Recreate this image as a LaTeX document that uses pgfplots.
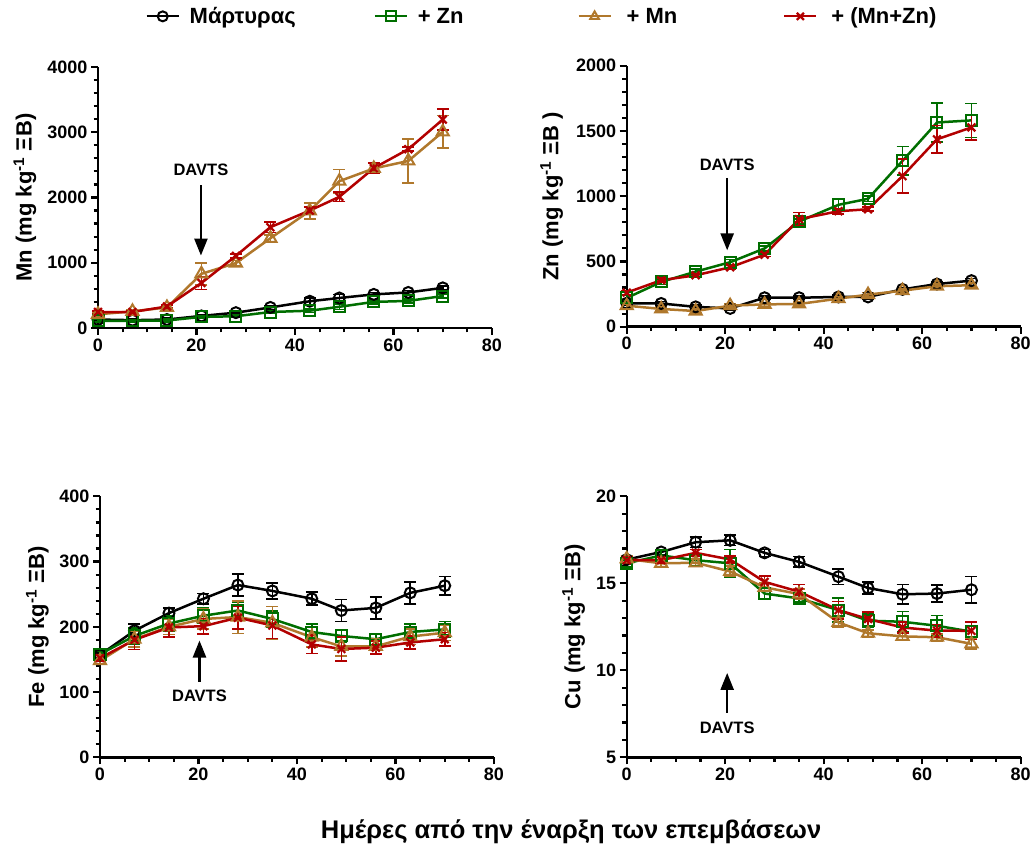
\documentclass[border=0pt]{standalone}
\usepackage{fontspec}
\setmainfont{Liberation Sans}
\usepackage{pgfplots}
\pgfplotsset{compat=1.18}
\usetikzlibrary{arrows.meta}
\definecolor{cgreen}{RGB}{0,110,0}
\definecolor{cbrown}{RGB}{176,120,44}
\definecolor{cred}{RGB}{178,0,0}
\tikzset{
 davts/.style={font=\fontsize{16.5}{17}\selectfont\bfseries},
 arr/.style={line width=2.4pt, -{Triangle[width=13pt,length=17pt]}},
}
\pgfplotsset{
 panel/.style={
  scale only axis, width=394pt, height=261pt,
  axis x line*=bottom, axis y line*=left,
  axis line style={line width=2.4pt,-},
  xmin=0, xmax=80, xtick={0,20,...,80}, minor x tick num=3,
  minor y tick num=4,
  tick align=outside, tick pos=left,
  major tick length=7pt, minor tick length=4.5pt,
  every tick/.style={black, line width=2.2pt},
  ticklabel style={font=\fontsize{18}{19}\selectfont\bfseries},
  /pgf/number format/assume math mode=true,
  /pgf/number format/set thousands separator={},
  every axis y label/.style={at={(axis description cs:0,0.5)}, rotate=90, anchor=center,
     font=\fontsize{22}{24}\selectfont\bfseries},
  clip=false,
  legend image code/.code={\draw[mark repeat=2,mark phase=2,##1,mark size=5pt,line width=2pt] plot coordinates {(0pt,0pt) (16pt,0pt) (32pt,0pt)};},
 },
 errb/.style={error bars/.cd, y dir=both, y explicit,
   error bar style={line width=1.6pt},
   error mark options={rotate=90, line width=1.6pt, mark size=6pt}},
 sctrl/.style={black, line width=2.5pt, mark=o, mark size=5.5pt, mark options={solid, line width=2pt}, errb},
 szn/.style={cgreen, line width=2.5pt, mark=square, mark size=5.5pt, mark options={solid, line width=2pt}, errb},
 smn/.style={cbrown, line width=2.5pt, mark=triangle, mark size=7pt, mark options={solid, line width=2pt}, errb},
 smz/.style={cred, line width=2.5pt, mark=x, mark size=5.5pt, mark options={solid, line width=2.2pt}, errb},
}
\begin{document}
\begin{tikzpicture}
\path[use as bounding box] (0pt,0pt) rectangle (1032pt,852pt);

% ---------------- Mn ----------------
\begin{axis}[panel, at={(98pt,524pt)}, anchor=south west,
  ymin=0, ymax=4000, ytick={0,1000,...,4000},
  ylabel={Mn (mg kg\textsuperscript{-1} ΞΒ)},
  ylabel style={yshift=73pt},
  legend columns=4,
  legend style={at={(0.113,1.194)}, anchor=west, draw=none, fill=none,
    font=\fontsize{22}{24}\selectfont\bfseries,
    /tikz/every even column/.append style={column sep=0pt}},
  ]
\addplot[sctrl] table[x=x,y=y,y error=e]{
x y e
0 130 20
7 120 20
14 130 20
21 185 20
28 235 25
35 315 30
43 410 50
49 460 55
56 515 30
63 545 30
70 615 30
};
\addlegendentry{\hspace*{8pt}Μάρτυρας\hspace*{76pt}}
\addplot[szn] table[x=x,y=y,y error=e]{
x y e
0 110 20
7 110 20
14 115 20
21 170 20
28 180 20
35 245 20
43 265 25
49 325 40
56 400 30
63 415 30
70 490 30
};
\addlegendentry{\hspace*{8pt}+ Zn\hspace*{112pt}}
\addplot[smn] table[x=x,y=y,y error=e]{
x y e
0 210 30
7 255 30
14 315 30
21 830 170
28 995 40
35 1375 50
43 1795 120
49 2250 180
56 2445 80
63 2560 340
70 3005 250
};
\addlegendentry{\hspace*{13pt}+ Mn\hspace*{104pt}}
\addplot[smz] table[x=x,y=y,y error=e]{
x y e
0 245 20
7 245 20
14 330 20
21 690 100
28 1105 30
35 1545 80
43 1800 50
49 2010 70
56 2450 80
63 2740 30
70 3195 165
};
\addlegendentry{\hspace*{12pt}+ (Mn+Zn)}
\node[davts] at (axis cs:20.9,2420) {DAVTS};
\draw[arr] (axis cs:20.9,2190) -- (axis cs:20.9,1110);
\end{axis}

% ---------------- Zn ----------------
\begin{axis}[panel, at={(626.7pt,525.3pt)}, anchor=south west,
  ymin=0, ymax=2000, ytick={0,500,...,2000},
  ylabel={Zn (mg kg\textsuperscript{-1} ΞΒ )},
  ylabel style={yshift=75pt},
  ]
\addplot[sctrl] table[x=x,y=y,y error=e]{
x y e
0 180 15
7 178 15
14 152 15
21 140 15
28 222 15
35 222 15
43 228 15
49 228 15
56 286 15
63 327 15
70 353 15
};
\addplot[szn] table[x=x,y=y,y error=e]{
x y e
0 220 20
7 343 20
14 422 20
21 494 20
28 600 20
35 806 20
43 934 40
49 980 20
56 1271 110
63 1565 150
70 1581 130
};
\addplot[smn] table[x=x,y=y,y error=e]{
x y e
0 161 15
7 136 15
14 120 15
21 161 15
28 171 15
35 174 15
43 215 15
49 246 15
56 276 15
63 310 15
70 318 15
};
\addplot[smz] table[x=x,y=y,y error=e]{
x y e
0 261 15
7 356 15
14 394 15
21 455 15
28 552 15
35 824 50
43 885 20
49 900 15
56 1154 130
63 1436 105
70 1527 95
};
\node[davts] at (axis cs:20.4,1240) {DAVTS};
\draw[arr] (axis cs:20.4,1140) -- (axis cs:20.4,585);
\end{axis}

% ---------------- Fe ----------------
\begin{axis}[panel, at={(100pt,94.7pt)}, anchor=south west,
  ymin=0, ymax=400, ytick={0,100,...,400},
  ylabel={Fe (mg kg\textsuperscript{-1} ΞΒ)},
  ylabel style={yshift=62.5pt},
  ]
\addplot[sctrl] table[x=x,y=y,y error=e]{
x y e
0 157 5
7 194 10
14 221 8
21 243 8
28 264 17
35 255 12
43 243 10
49 225 17
56 229 17
63 252 17
70 263 14
};
\addplot[szn] table[x=x,y=y,y error=e]{
x y e
0 158 5
7 186 12
14 205 12
21 217 12
28 225 12
35 212 12
43 192 12
49 186 10
56 181 8
63 192 12
70 196 12
};
\addplot[smn] table[x=x,y=y,y error=e]{
x y e
0 148 5
7 181 12
14 200 12
21 212 15
28 215 25
35 206 25
43 184 15
49 170 15
56 170 12
63 185 12
70 191 12
};
\addplot[smz] table[x=x,y=y,y error=e]{
x y e
0 152 5
7 180 15
14 199 15
21 201 12
28 214 17
35 202 20
43 173 14
49 166 18
56 168 10
63 176 10
70 181 10
};
\node[davts] at (axis cs:20.2,94) {DAVTS};
\draw[arr] (axis cs:20.2,116) -- (axis cs:20.2,179);
\end{axis}

% ---------------- Cu ----------------
\begin{axis}[panel, at={(626.7pt,94.7pt)}, anchor=south west,
  ymin=5, ymax=20, ytick={5,10,...,20},
  ylabel={Cu (mg kg\textsuperscript{-1} ΞΒ)},
  ylabel style={yshift=53pt},
  ]
\addplot[sctrl] table[x=x,y=y,y error=e]{
x y e
0 16.36 0.2
7 16.8 0.15
14 17.36 0.3
21 17.47 0.3
28 16.75 0.2
35 16.23 0.3
43 15.38 0.45
49 14.73 0.35
56 14.37 0.55
63 14.41 0.5
70 14.63 0.75
};
\addplot[szn] table[x=x,y=y,y error=e]{
x y e
0 16.15 0.2
7 16.6 0.35
14 16.33 0.2
21 16.15 0.8
28 14.41 0.3
35 14.13 0.2
43 13.46 0.7
49 12.85 0.4
56 12.79 0.6
63 12.56 0.6
70 12.22 0.3
};
\addplot[smn] table[x=x,y=y,y error=e]{
x y e
0 16.4 0.2
7 16.15 0.2
14 16.18 0.2
21 15.68 0.3
28 14.77 0.25
35 14.38 0.3
43 12.75 0.25
49 12.13 0.2
56 11.95 0.2
63 11.9 0.2
70 11.52 0.3
};
\addplot[smz] table[x=x,y=y,y error=e]{
x y e
0 16.33 0.2
7 16.33 0.2
14 16.75 0.2
21 16.37 0.2
28 15.08 0.35
35 14.52 0.4
43 13.46 0.5
49 12.95 0.4
56 12.46 0.3
63 12.28 0.35
70 12.27 0.5
};
\node[davts] at (axis cs:20.4,6.68) {DAVTS};
\draw[arr] (axis cs:20.4,7.55) -- (axis cs:20.4,9.85);
\end{axis}

\node[font=\fontsize{25.5}{27}\selectfont\bfseries] at (571pt,20pt) {Ημέρες από την έναρξη των επεμβάσεων};
\end{tikzpicture}
\end{document}
